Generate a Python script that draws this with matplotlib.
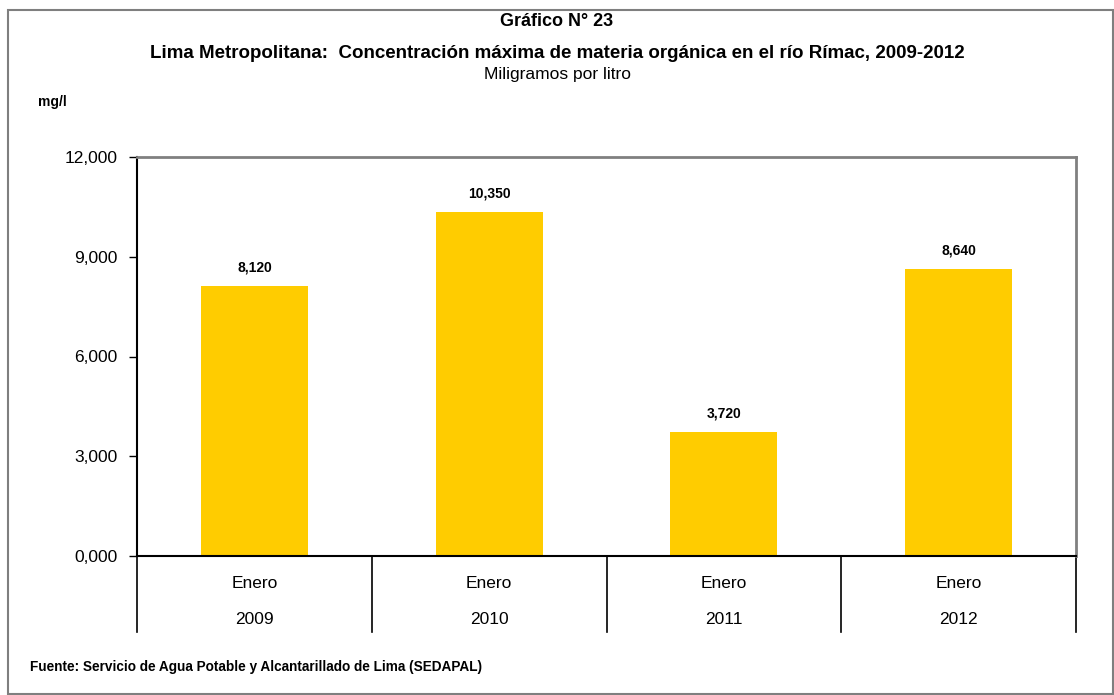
import matplotlib
matplotlib.use("Agg")
import matplotlib.pyplot as plt
from matplotlib.patches import Rectangle
from matplotlib.transforms import blended_transform_factory
from matplotlib.ticker import FuncFormatter

years = ["2009", "2010", "2011", "2012"]
months = ["Enero", "Enero", "Enero", "Enero"]
values = [8120, 10350, 3720, 8640]
yticks = [0, 3000, 6000, 9000, 12000]

FONT = ["Liberation Sans Narrow", "Liberation Sans", "DejaVu Sans"]
plt.rcParams['font.family'] = FONT

W, H = 1114, 695
fig = plt.figure(figsize=(W / 100, H / 100), dpi=100)

def fx(px):
    return px / W

def fy(py):
    return 1 - py / H

# outer frame
fig.add_artist(Rectangle((fx(8), fy(694)), fx(1113) - fx(8), fy(10) - fy(694),
                         transform=fig.transFigure, fill=False,
                         edgecolor="#7f7f7f", linewidth=1.5))

ax = fig.add_axes([fx(137), fy(556), fx(1076) - fx(137), fy(157) - fy(556)])
x = list(range(len(values)))
ax.bar(x, values, width=0.456, color="#FFCC00", zorder=2)
ax.set_xlim(-0.5, len(values) - 0.5)
ax.set_ylim(0, 12000)
ax.set_yticks(yticks)
ax.yaxis.set_major_formatter(FuncFormatter(lambda v, p: f"{int(v):,}" if v >= 1000 else "0,000"))
ax.tick_params(axis='y', direction='out', length=6, width=1, labelsize=12.5, pad=8, color="black")
ax.set_xticks([])
for s in ["top", "right"]:
    ax.spines[s].set_color("#808080")
    ax.spines[s].set_linewidth(2)
for s in ["left", "bottom"]:
    ax.spines[s].set_color("black")
    ax.spines[s].set_linewidth(1.5)

for xi, v in zip(x, values):
    ax.text(xi, v + 350, f"{v:,}", ha="center", va="bottom", fontsize=10,
            fontweight="bold")

trans = blended_transform_factory(ax.transData, ax.transAxes)
ybot = (556 - 632) / 399
for b in [i - 0.5 for i in range(len(values) + 1)]:
    ax.plot([b, b], [0, ybot], transform=trans, color="black", linewidth=1.2,
            clip_on=False)
for xi, m, yr in zip(x, months, years):
    ax.text(xi, (556 - 583) / 399, m, transform=trans, ha="center", va="center",
            fontsize=12.5)
    ax.text(xi, (556 - 620) / 399, yr, transform=trans, ha="center", va="center",
            fontsize=12.5)

fig.text(0.5, fy(22), "Gráfico N° 23", ha="center", va="center", fontsize=13,
         fontweight="bold")
fig.text(0.5, fy(53), "Lima Metropolitana:  Concentración máxima de materia orgánica en el río Rímac, 2009-2012",
         ha="center", va="center", fontsize=13.5, fontweight="bold")
fig.text(0.5, fy(75), "Miligramos por litro", ha="center", va="center", fontsize=12.5)
fig.text(fx(38), fy(102), "mg/l", ha="left", va="center", fontsize=10, fontweight="bold")
fig.text(fx(30), fy(667), "Fuente: Servicio de Agua Potable y Alcantarillado de Lima (SEDAPAL)",
         ha="left", va="center", fontsize=9.8, fontweight="bold")

fig.savefig("out.png", dpi=100)
